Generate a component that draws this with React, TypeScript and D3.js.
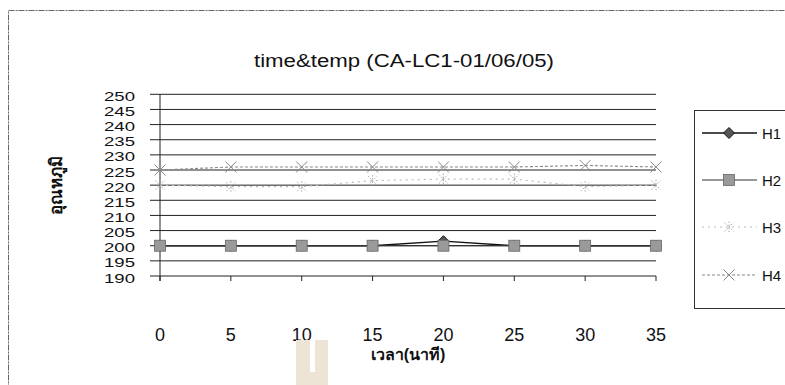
import React from "react";
import * as d3 from "d3";

const times = [0, 5, 10, 15, 20, 25, 30, 35];
const H1 = [200, 200, 200, 200, 201.5, 200, 200, 200];
const H2 = [200, 200, 200, 200, 200, 200, 200, 200];
const H3 = [220, 219.5, 219.5, 221.5, 222, 222, 219.5, 220];
const H4 = [225, 226, 226, 226, 226, 226, 226.5, 226];
const seriesNames = ["H1", "H2", "H3", "H4"];
const yTicks = [190, 195, 200, 205, 210, 215, 220, 225, 230, 235, 240, 245, 250];
const xTicks = [0, 5, 10, 15, 20, 25, 30, 35];
const title = "time&temp (CA-LC1-01/06/05)";
const yTitle = "อุณหภูมิ";
const xTitle = "เวลา(นาที)";

const FONT = "'Liberation Sans', Arial, 'Noto Sans', sans-serif";

type Style = { stroke: string; dash?: string; width: number; marker: string; mfill: string; mstroke: string };
const styles: Style[] = [
  { stroke: "#111", width: 1.4, marker: "diamond", mfill: "#555", mstroke: "#111" },
  { stroke: "#333", width: 1.2, marker: "square", mfill: "#9a9a9a", mstroke: "#666" },
  { stroke: "#bbb", dash: "2,4", width: 1.2, marker: "star", mfill: "none", mstroke: "#aaa" },
  { stroke: "#888", dash: "3,2", width: 1.1, marker: "x", mfill: "none", mstroke: "#888" },
];

function Marker({ type, x, y, s }: { type: string; x: number; y: number; s: Style }) {
  if (type === "diamond") {
    const r = 5.5;
    return <path d={`M${x},${y - r}L${x + r},${y}L${x},${y + r}L${x - r},${y}Z`} fill={s.mfill} stroke={s.mstroke} strokeWidth={1} />;
  }
  if (type === "square") {
    const r = 5.5;
    return <rect x={x - r} y={y - r} width={2 * r} height={2 * r} fill={s.mfill} stroke={s.mstroke} strokeWidth={0.8} />;
  }
  if (type === "star") {
    const r = 4.5;
    return (
      <g stroke={s.mstroke} strokeWidth={1} strokeDasharray="1.5,1.5">
        <line x1={x - r} y1={y - r} x2={x + r} y2={y + r} />
        <line x1={x - r} y1={y + r} x2={x + r} y2={y - r} />
        <line x1={x} y1={y - r - 1} x2={x} y2={y + r + 1} />
      </g>
    );
  }
  const r = 5.5;
  return (
    <g stroke={s.mstroke} strokeWidth={1}>
      <line x1={x - r} y1={y - r} x2={x + r} y2={y + r} />
      <line x1={x - r} y1={y + r} x2={x + r} y2={y - r} />
    </g>
  );
}

export default function App() {
  const x = d3.scaleLinear().domain([0, 35]).range([160, 656]);
  const y = d3.scaleLinear().domain([190, 250]).range([276, 94.3]);
  const data = [H1, H2, H3, H4];
  const line = d3
    .line<number>()
    .x((_, i) => x(times[i]))
    .y((d) => y(d));

  const legendY = [133, 180, 227, 275];

  return (
    <svg
      width={785}
      height={385}
      style={{ position: "absolute", left: 0, top: 0, background: "#fff" }}
      fontFamily={FONT}
    >
      <rect x={0} y={0} width={785} height={385} fill="#fff" />
      {/* outer chart border */}
      <rect x={8.5} y={10.5} width={800} height={400} fill="none" stroke="#666" strokeWidth={1} strokeDasharray="6,1,2,1" />

      {/* title */}
      <text x={404} y={67} textAnchor="middle" fontSize={18} textLength={300} lengthAdjust="spacingAndGlyphs" fill="#111">
        {title}
      </text>

      {/* gridlines */}
      {yTicks.map((t) => (
        <line key={t} x1={150} x2={656} y1={y(t)} y2={y(t)} stroke="#222" strokeWidth={1} />
      ))}
      {/* y axis */}
      <line x1={160} x2={160} y1={94} y2={281} stroke="#222" strokeWidth={1} />
      {/* x axis ticks */}
      {xTicks.map((t) => (
        <line key={t} x1={x(t)} x2={x(t)} y1={276} y2={281} stroke="#222" strokeWidth={1} />
      ))}

      {/* y tick labels */}
      {yTicks.map((t) => (
        <text key={t} x={135} y={y(t) + 2} textAnchor="end" dominantBaseline="central" fontSize={13} textLength={31} lengthAdjust="spacingAndGlyphs" fill="#111">
          {t}
        </text>
      ))}
      {/* x tick labels */}
      {xTicks.map((t) => (
        <text key={t} x={x(t)} y={341} textAnchor="middle" fontSize={18} fill="#111">
          {t}
        </text>
      ))}

      {/* series */}
      {data.map((vals, si) => (
        <g key={si}>
          <path d={line(vals) || ""} fill="none" stroke={styles[si].stroke} strokeWidth={styles[si].width} strokeDasharray={styles[si].dash} />
          {vals.map((v, i) => (
            <Marker key={i} type={styles[si].marker} x={x(times[i])} y={y(v)} s={styles[si]} />
          ))}
        </g>
      ))}

      {/* axis titles */}
      <text
        transform="translate(56,185) rotate(-90)"
        textAnchor="middle"
        dominantBaseline="central"
        fontSize={17}
        fontWeight="bold"
        fill="#111"
      >
        {yTitle}
      </text>
      <text x={408} y={360} textAnchor="middle" fontSize={16} fontWeight="bold" fill="#111">
        {xTitle}
      </text>

      {/* legend */}
      <rect x={694.5} y={110.5} width={120} height={198} fill="#fff" stroke="#333" strokeWidth={1} />
      {seriesNames.map((n, i) => (
        <g key={n}>
          <line x1={702} x2={757} y1={legendY[i]} y2={legendY[i]} stroke={styles[i].stroke} strokeWidth={styles[i].width} strokeDasharray={styles[i].dash} />
          <Marker type={styles[i].marker} x={729} y={legendY[i]} s={styles[i]} />
          <text x={762} y={legendY[i]} dominantBaseline="central" fontSize={15} fill="#111">
            {n}
          </text>
        </g>
      ))}

      {/* scanned watermark */}
      <rect x={296} y={340} width={32} height={45} fill="#ede4d5" />
      <rect x={310} y={340} width={5} height={32} fill="#fff" />
    </svg>
  );
}
